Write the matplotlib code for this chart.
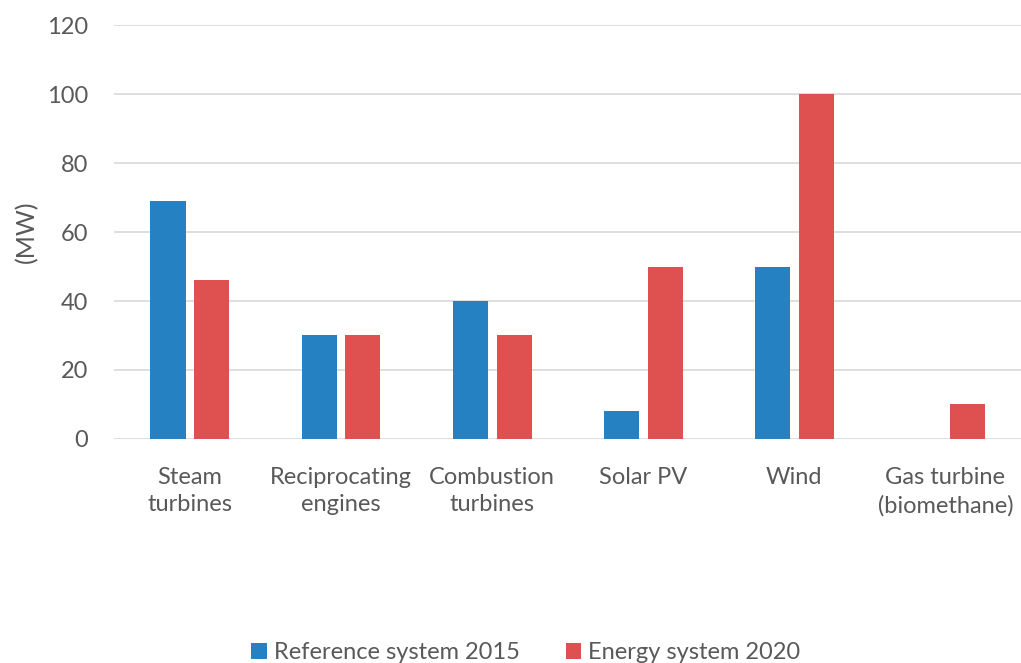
import matplotlib.pyplot as plt
import numpy as np

categories = ['Steam\nturbines', 'Reciprocating\nengines', 'Combustion\nturbines',
              'Solar PV', 'Wind', 'Gas turbine\n(biomethane)']
ref_2015 = [69, 30, 40, 8, 50, 0]
energy_2020 = [46, 30, 30, 50, 100, 10]

plt.rcParams['font.family'] = ['Lato', 'DejaVu Sans']
grey = '#595959'

fig = plt.figure(figsize=(10.21, 6.63), dpi=100)
ax = fig.add_axes([0.112, 0.338, 0.888, 0.624])

x = np.arange(len(categories))
w = 0.232
ax.bar(x - 0.145, ref_2015, w, color='#2681C3', label='Reference system 2015')
ax.bar(x + 0.145, energy_2020, w, color='#DF5050', label='Energy system 2020')

ax.set_xlim(-0.5, len(categories) - 0.5)
ax.set_ylim(0, 120)
ax.set_yticks(range(0, 121, 20))
ax.yaxis.grid(True, color='#D9D9D9', linewidth=1.2)
ax.set_axisbelow(True)
for s in ax.spines.values():
    s.set_visible(False)
ax.tick_params(length=0, labelsize=17, colors=grey, pad=19)
ax.set_xticks(x)
ax.set_xticklabels(categories, linespacing=1.4)
ax.tick_params(axis='x', pad=20)
ax.set_ylabel('(MW)', fontsize=18, color=grey)
ax.yaxis.set_label_coords(-0.084, 0.5)

fig.legend(loc='lower center', bbox_to_anchor=(0.515, -0.032), ncol=2, frameon=False,
           fontsize=17, labelcolor=grey, handlelength=0.65, handleheight=0.65,
           handletextpad=0.3, columnspacing=1.95)

fig.savefig('out.png', dpi=100)
